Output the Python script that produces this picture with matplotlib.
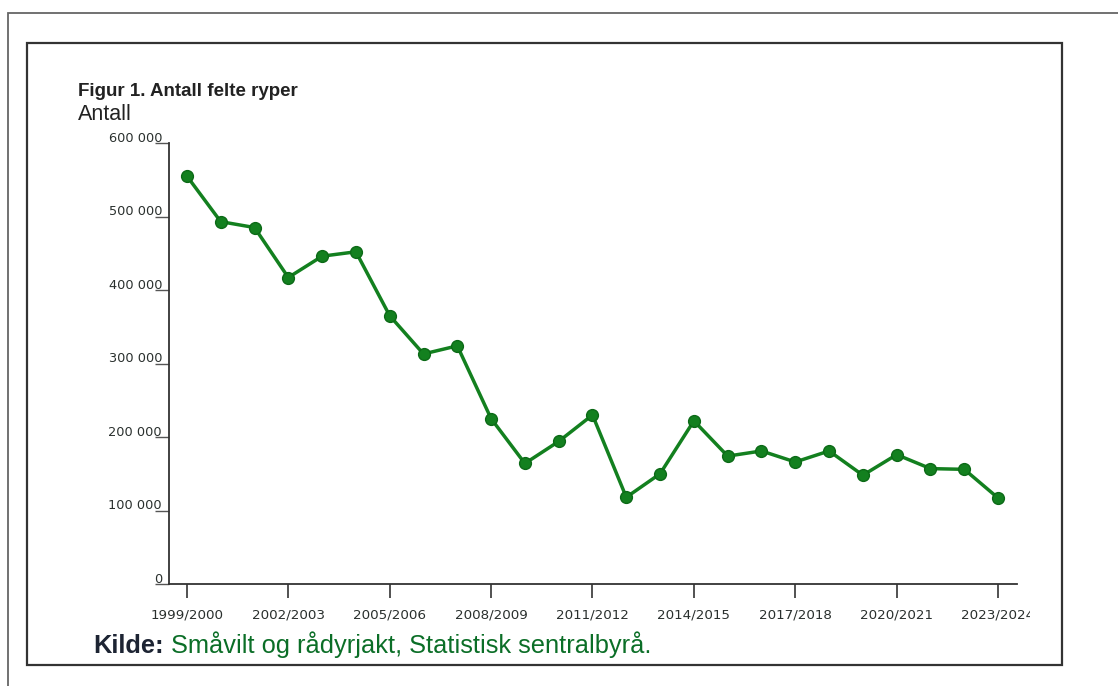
import matplotlib.pyplot as plt
import matplotlib.transforms as mtransforms
from matplotlib.patches import Rectangle
import numpy as np

# antall felte ryper per jaktsesong (lest av figuren)
seasons = [f"{y}/{y + 1}" for y in range(1999, 2024)]
felte = [555000, 493000, 485000, 417000, 446000, 452000, 365000, 313000, 324000,
         225000, 164000, 194000, 230000, 118000, 150000, 222000, 174000, 181000,
         166000, 181000, 148000, 176000, 157000, 156000, 117000]

y_ticks = [0, 100000, 200000, 300000, 400000, 500000, 600000]
y_labels = ["0", "100 000", "200 000", "300 000", "400 000", "500 000", "600 000"]

W, H = 1118, 686
fig = plt.figure(figsize=(W / 100, H / 100), dpi=100)


def fx(px):
    return px / W


def fy(py):
    return 1 - py / H


# rammer (skannet side)
fig.patches.append(Rectangle((fx(8), fy(700)), fx(1130) - fx(8), fy(13) - fy(700),
                             transform=fig.transFigure, fill=False,
                             edgecolor="#666666", lw=1.3))
fig.patches.append(Rectangle((fx(27), fy(665)), fx(1062) - fx(27), fy(43) - fy(665),
                             transform=fig.transFigure, fill=False,
                             edgecolor="#333333", lw=1.6))

ax = fig.add_axes([fx(169), fy(584), fx(1017) - fx(169), fy(143) - fy(584)])
x = np.arange(len(seasons))
ax.plot(x, felte, color="#13801f", lw=2.5, marker="o", markersize=8.5,
        markerfacecolor="#13801f", markeredgecolor="#0c6a17", markeredgewidth=1)

ax.set_xlim(-0.53, 24.56)
ax.set_ylim(0, 600000)
ax.set_xticks(x[::3])
ax.set_xticklabels(seasons[::3], fontsize=9.7, color="#2a302e",
                   family="DejaVu Sans")
ax.set_yticks(y_ticks)
ax.set_yticklabels(y_labels, fontsize=9.3, color="#2a302e", family="DejaVu Sans")

for s in ["top", "right"]:
    ax.spines[s].set_visible(False)
for s in ["left", "bottom"]:
    ax.spines[s].set_color("#333333")
    ax.spines[s].set_linewidth(1.3)

ax.tick_params(axis="x", length=10, width=1.2, color="#333333", pad=8)
ax.tick_params(axis="y", length=10, width=1.0, color="#555555", pad=-5)
shift = mtransforms.ScaledTranslation(0, 4.5 / 72, fig.dpi_scale_trans)
for lbl in ax.get_yticklabels():
    lbl.set_transform(lbl.get_transform() + shift)

# siste etikett er kuttet i originalen
fig.patches.append(Rectangle((fx(1030), fy(632)), fx(1058) - fx(1030), fy(602) - fy(632),
                             transform=fig.transFigure, facecolor="white",
                             edgecolor="none", zorder=5))

fig.text(fx(78), fy(91), "Figur 1. Antall felte ryper", fontsize=13.5,
         fontweight="bold", color="#222222", family="Liberation Sans", va="center")
fig.text(fx(78), fy(114), "Antall", fontsize=15.5, color="#222222",
         family="Liberation Sans", va="center")

kilde = fig.text(fx(93), fy(653), "Kilde:", fontsize=18.3, fontweight="bold",
                 color="#1d2433", family="Liberation Sans", va="baseline")
ax.annotate(" Småvilt og rådyrjakt, Statistisk sentralbyrå.", xy=(1, 0),
            xycoords=kilde, va="bottom", fontsize=18.3, color="#0b6e27",
            family="Liberation Sans", annotation_clip=False)

fig.savefig("out.png", dpi=100)
